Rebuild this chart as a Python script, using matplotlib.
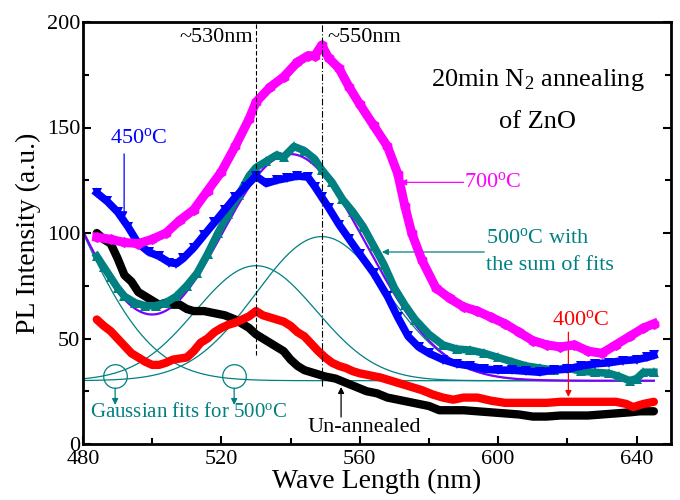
import numpy as np
import matplotlib
matplotlib.use("Agg")
import matplotlib.pyplot as plt

plt.rcParams['font.family'] = ['Liberation Serif', 'DejaVu Serif']
plt.rcParams['mathtext.fontset'] = 'custom'
plt.rcParams['mathtext.rm'] = 'Liberation Serif'
plt.rcParams['mathtext.it'] = 'Liberation Serif:italic'

# PL spectra (wavelength in nm, intensity in a.u.)
wl_700 = [484, 488, 492, 496, 500, 504, 508, 512, 516, 520, 524, 528, 530, 534, 538, 542, 545,
          547, 549, 551, 554, 557, 560, 564, 568, 571, 573, 575, 578, 582, 586, 590, 594, 598,
          602, 606, 610, 614, 618, 622, 626, 630, 634, 638, 642, 645]
pl_700 = [98, 97, 95.5, 95, 97, 100, 106, 111, 120, 129, 141, 154, 162, 169, 174, 181, 184,
          184, 189, 183, 178, 169, 161, 151, 141, 128, 113, 100, 87, 74, 69, 65, 63, 60,
          57, 53, 49, 47, 46, 47, 44, 43, 47, 51, 55, 57]

wl_450 = [484, 487, 490, 493, 496, 499, 502, 505, 507, 509, 512, 515, 518, 521, 524, 527, 530,
          533, 536, 539, 542, 545, 547, 549, 551, 554, 557, 560, 564, 568, 571, 574, 577, 580,
          584, 588, 592, 596, 600, 604, 608, 612, 616, 620, 624, 628, 632, 636, 640, 643, 645]
pl_450 = [119, 115, 110, 103, 95, 91, 89, 86, 85.5, 88, 93, 99, 105, 111, 117, 122, 127,
          123.5, 125, 126, 127, 126.5, 122, 117, 112, 104, 97, 90, 81, 70, 60, 51, 46, 43,
          40, 38, 37, 35.5, 35, 35, 34.5, 34, 35, 35.5, 37, 38, 38.5, 39.5, 40, 41, 42]

wl_500 = [484, 486, 488, 490, 492, 495, 498, 501, 504, 507, 510, 513, 516, 519, 522, 525, 528,
          530, 533, 536, 538, 541, 544, 547, 549, 552, 555, 558, 561, 564, 567, 570, 573, 576,
          580, 584, 588, 592, 596, 600, 604, 608, 612, 616, 620, 624, 628, 632, 635, 638, 640,
          642, 645]
pl_500 = [89, 84, 79, 74, 70, 67, 65.5, 65.5, 67, 70, 75, 81, 90, 100, 109, 118, 127,
          131, 134, 137, 136, 141, 139, 135, 130, 124, 116, 110, 103, 94, 85, 74, 66, 59,
          52, 47, 45, 44.5, 43, 41, 39, 37, 36, 35, 36, 34.5, 34, 33.5, 32, 30, 31,
          34, 34]

wl_400 = [484, 486, 488, 490, 492, 494, 496, 498, 500, 502, 504, 506, 508, 510, 512, 514, 516,
          518, 520, 522, 524, 526, 528, 530, 532, 534, 536, 538, 540, 542, 544, 546, 548, 550,
          552, 554, 556, 558, 560, 563, 566, 569, 572, 575, 578, 581, 584, 587, 590, 594, 598,
          602, 606, 610, 614, 618, 622, 626, 630, 634, 637, 639, 642, 645]
pl_400 = [59, 56, 53.5, 50, 46.5, 43, 41, 39, 37.5, 37.5, 38.5, 40, 40.5, 41, 44, 48, 50,
          53, 55, 56.5, 57.5, 59, 60.5, 63, 61, 60, 59, 58, 56, 53, 51, 47.5, 44, 41,
          38.5, 37, 36, 34.5, 33.5, 32.5, 31.5, 30, 28.5, 27, 25.5, 23.5, 22, 21, 22, 22, 20.5,
          19.5, 19.5, 19.5, 19.5, 20, 20, 20, 20, 20, 19, 17.5, 19, 20]

wl_raw = [484, 486, 488, 490, 492, 494, 496, 498, 500, 502, 504, 506, 508, 510, 512, 515, 518,
          521, 524, 526, 528, 530, 532, 534, 536, 538, 540, 542, 544, 546, 548, 550, 553, 556,
          559, 562, 565, 568, 571, 574, 577, 580, 583, 586, 590, 594, 598, 602, 606, 610, 614,
          618, 622, 626, 630, 634, 638, 641, 645]
pl_raw = [100, 97, 95, 88, 80, 77, 72, 70, 68, 66, 67, 66, 66, 64, 63, 63, 62,
          61, 59, 57, 55, 52, 50, 48, 46, 44, 40, 37, 35, 34, 33, 32, 31, 29,
          27, 25, 24, 22, 21, 20, 19, 18, 16, 16, 16, 15.5, 15, 14.5, 14, 13, 13,
          13.5, 13.5, 13.5, 14, 14.5, 15, 15.5, 15.5]

# Gaussian components fitted to the 500 C spectrum
fit_baseline = 30.0
fit_centers = [458.0, 530.0, 549.0]
fit_sigmas = [21.0, 17.5, 19.0]
fit_heights = [121.0, 54.5, 68.3]
fit_range = (480.0, 645.0)

# Peak markers
peak_lines = [530.0, 549.0]

fig = plt.figure(figsize=(6.8, 5.0), dpi=100)
ax = fig.add_axes([0.122, 0.112, 0.865, 0.844])

# fitted components and their sum
xf = np.linspace(fit_range[0], fit_range[1], 400)
total = np.full_like(xf, fit_baseline)
for c, s, h in zip(fit_centers, fit_sigmas, fit_heights):
    g = h * np.exp(-(xf - c) ** 2 / (2 * s ** 2))
    total += g
    ax.plot(xf, fit_baseline + g, color='#008080', lw=0.9, zorder=2)
ax.plot(xf, total, color='#7B00FF', lw=1.6, zorder=2.5)

# spectra
ax.plot(wl_raw, pl_raw, color='black', lw=6, solid_capstyle='round', zorder=3)
ax.plot(wl_400, pl_400, color='#FF0000', lw=6, solid_capstyle='round', zorder=3)
ax.plot(wl_500, pl_500, color='#008080', lw=5.5, marker='^', ms=7, mew=0, zorder=4)
ax.plot(wl_450, pl_450, color='#0000FF', lw=5.5, marker='v', ms=7, mew=0, zorder=4)
ax.plot(wl_700, pl_700, color='#FF00FF', lw=6.5, marker='h', ms=8, mew=0, zorder=5)

# peak position guides
ax.plot([peak_lines[0]] * 2, [42, 200], color='black', lw=0.8, ls=(0, (4, 2)), zorder=6)
ax.plot([peak_lines[1]] * 2, [27.5, 200], color='black', lw=0.8, ls=(0, (6, 2, 1, 2)), zorder=6)
ax.text(peak_lines[0] - 0.8, 192.5, '~530nm', fontsize=16, ha='right', va='center')
ax.text(peak_lines[1] + 1.5, 192.5, '~550nm', fontsize=16, ha='left', va='center')

ax.text(611.5, 172.5, r'20min N$_2$ annealing', fontsize=19, ha='center', va='center')
ax.text(611.5, 152.5, 'of ZnO', fontsize=19, ha='center', va='center')

arrow = dict(arrowstyle='-|>', lw=0.9, mutation_scale=9, shrinkA=0, shrinkB=0)

ax.text(590, 124, r'700$^\mathrm{o}$C', fontsize=16, color='#FF00FF', ha='left', va='center')
ax.annotate('', xy=(571.7, 124), xytext=(590, 124), arrowprops=dict(arrow, color='#FF00FF'))

ax.text(596.5, 97.5, r'500$^\mathrm{o}$C with', fontsize=16, color='#008080', ha='left', va='center')
ax.text(596.5, 84.5, 'the sum of fits', fontsize=16, color='#008080', ha='left', va='center')
ax.annotate('', xy=(566.4, 91), xytext=(596, 91), arrowprops=dict(arrow, color='#008080'))

ax.text(487.8, 145, r'450$^\mathrm{o}$C', fontsize=16, color='#0000FF', ha='left', va='center')
ax.annotate('', xy=(491.9, 107), xytext=(491.9, 137.5), arrowprops=dict(arrow, color='#0000FF'))

ax.text(615.7, 59, r'400$^\mathrm{o}$C', fontsize=16, color='#FF0000', ha='left', va='center')
ax.annotate('', xy=(620.3, 22.3), xytext=(620.3, 53), arrowprops=dict(arrow, color='#FF0000'))

ax.text(544.8, 8, 'Un-annealed', fontsize=16, color='black', ha='left', va='center')
ax.annotate('', xy=(554.6, 27), xytext=(554.6, 12.8), arrowprops=dict(arrow, color='black'))

ax.text(482, 14.7, r'Gaussian fits for 500$^\mathrm{o}$C', fontsize=15, color='#008080',
        ha='left', va='center')
for cx in (489.3, 523.7):
    ax.plot([cx], [32.2], marker='o', ms=17, mfc='none', mec='#008080', mew=0.9, zorder=6)
    ax.annotate('', xy=(cx, 18.5), xytext=(cx, 26.5), arrowprops=dict(arrow, color='#008080'))

ax.set_xlim(480, 650)
ax.set_ylim(0, 200)
ax.set_xticks([480, 520, 560, 600, 640])
ax.set_xticks([500, 540, 580, 620], minor=True)
ax.set_yticks([0, 50, 100, 150, 200])
ax.set_yticks([25, 75, 125, 175], minor=True)
ax.tick_params(which='both', direction='in', top=False, right=True, labelsize=16, width=1.5)
ax.tick_params(which='major', length=6)
ax.tick_params(which='minor', length=4)
ax.tick_params(axis='x', pad=4)
ax.tick_params(axis='y', pad=2)
for sp in ax.spines.values():
    sp.set_linewidth(2)

ax.set_xlabel('Wave Length (nm)', fontsize=20, labelpad=0)
ax.set_ylabel('PL Intensity (a.u.)', fontsize=20, labelpad=4)

fig.savefig('out.png', dpi=100)
